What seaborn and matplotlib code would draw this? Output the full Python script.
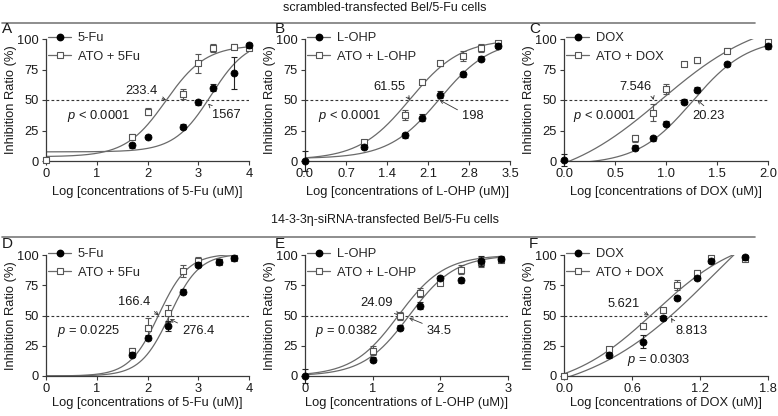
import numpy as np
import seaborn as sns
import matplotlib.pyplot as plt
from matplotlib.lines import Line2D

# ---- data (log10 concentration vs inhibition %) ----
# A: scrambled, 5-Fu
a_fu_x = [1.7, 2.0, 2.7, 3.0, 3.3, 3.7, 4.0]
a_fu_y = [13, 20, 28, 48, 60, 72, 95]
a_fu_err = [2, 1, 2, 2, 3, 13, 2]
a_ato_x = [0, 1.7, 2.0, 2.7, 3.0, 3.3, 3.7, 4.0]
a_ato_y = [1, 20, 40.5, 55, 80, 92.5, 93.5, 93]
a_ato_err = [2, 2, 3, 4, 8, 3, 2, 2]

# B: scrambled, L-OHP
b_ohp_x = [0, 1.0, 1.7, 2.0, 2.3, 2.7, 3.0, 3.3]
b_ohp_y = [0, 11.5, 21, 35.5, 54.5, 71, 84, 94.5]
b_ohp_err = [8, 2, 2, 3, 3, 2, 2, 2]
b_ato_x = [1.0, 1.7, 2.0, 2.3, 2.7, 3.0, 3.3]
b_ato_y = [15.5, 37.5, 65, 80, 86, 92.5, 96.5]
b_ato_err = [2, 4, 2, 2, 4, 3, 2]

# C: scrambled, DOX
c_dox_x = [0, 0.7, 0.875, 1.0, 1.176, 1.3, 1.6, 2.0]
c_dox_y = [1, 11, 18.5, 30.5, 48.5, 58.5, 79.5, 94]
c_dox_err = [5, 2, 2, 2, 2, 2, 2, 2]
c_ato_x = [0.7, 0.875, 1.0, 1.176, 1.3, 1.6, 2.0]
c_ato_y = [18.5, 39.5, 59, 79.5, 82.5, 90.5, 97.5]
c_ato_err = [3, 7, 4, 2, 2, 2, 2]

# D: siRNA, 5-Fu
d_fu_x = [1.7, 2.0, 2.4, 2.7, 3.0, 3.4, 3.7]
d_fu_y = [17.5, 31.5, 41.5, 69.5, 92, 94.5, 97.5]
d_fu_err = [2, 2, 4, 2, 2, 2, 2]
d_ato_x = [1.7, 2.0, 2.4, 2.7, 3.0, 3.4, 3.7]
d_ato_y = [21, 40, 52, 87, 95, 94.5, 97.5]
d_ato_err = [2, 8, 7, 5, 3, 2, 2]

# E: siRNA, L-OHP
e_ohp_x = [0, 1.0, 1.4, 1.7, 2.0, 2.3, 2.6, 2.9]
e_ohp_y = [0, 13.5, 40, 58, 81, 79, 95, 97]
e_ohp_err = [6, 2, 2, 3, 2, 2, 4, 2]
e_ato_x = [1.0, 1.4, 1.7, 2.0, 2.3, 2.6, 2.9]
e_ato_y = [21, 49.5, 69, 77, 88, 94, 96]
e_ato_err = [4, 3, 4, 2, 4, 4, 2]

# F: siRNA, DOX
f_dox_x = [0.4, 0.7, 0.875, 1.0, 1.176, 1.3, 1.6]
f_dox_y = [17, 28.5, 48, 64.5, 81, 95, 98]
f_dox_err = [2, 5, 2, 2, 2, 2, 2]
f_ato_x = [0, 0.4, 0.7, 0.875, 1.0, 1.176, 1.3, 1.6]
f_ato_y = [0, 22, 41, 54.5, 75, 85, 97.5, 97]
f_ato_err = [1, 2, 2, 2, 4, 3, 2, 2]

# fitted 4PL curves: bottom, top, log midpoint, hill slope
a_fit = [[7.5, 100, 3.25, 1.2], [3.5, 95, 2.36, 1.1]]
b_fit = [[2, 100, 2.30, 1.0], [1, 100, 1.79, 1.0]]
c_fit = [[-3, 101, 1.26, 1.6], [-20, 120, 0.95, 0.87]]
d_fit = [[0, 101, 2.44, 1.5], [0, 101, 2.22, 1.5]]
e_fit = [[0, 100, 1.54, 1.28], [0, 100, 1.38, 1.28]]
f_fit = [[-20, 191.7, 1.344, 0.767], [-12.8, 118.8, 0.80, 1.13]]

ic50_labels = {"A": ["233.4", "1567"], "B": ["61.55", "198"], "C": ["7.546", "20.23"],
               "D": ["166.4", "276.4"], "E": ["24.09", "34.5"], "F": ["5.621", "8.813"]}
p_labels = {"A": "< 0.0001", "B": "< 0.0001", "C": "< 0.0001",
            "D": "= 0.0225", "E": "= 0.0382", "F": "= 0.0303"}

sns.set_style("ticks")
plt.rcParams['font.family'] = ['Liberation Sans', 'DejaVu Sans']
plt.rcParams['mathtext.fontset'] = 'custom'
plt.rcParams['mathtext.it'] = 'Liberation Sans:italic'
plt.rcParams['mathtext.rm'] = 'Liberation Sans'

W, H = 778, 416
fig = plt.figure(figsize=(W / 100, H / 100), dpi=100)

AX = '#3a3a3a'
CURVE = '#6a6a6a'
TXT = '#1a1a1a'
FS = 9.3


def four_pl(x, p):
    b, t, m, h = p
    return b + (t - b) / (1 + 10 ** ((m - x) * h))


panels = [
    dict(key="A", box=(46, 249, 39, 161), drug="5-Fu", ato="ATO + 5Fu", xlab="5-Fu",
         ticks=[0, 1, 2, 3, 4], fmt="{:.0f}", xlim=4,
         d=(a_fu_x, a_fu_y, a_fu_err), a=(a_ato_x, a_ato_y, a_ato_err), fit=a_fit,
         ann=[(2.2, 57.5, 'right', (1, 0), 50), (3.27, 37.5, 'left', (0.05, 1), 47)], p=(0.41, 37)),
    dict(key="B", box=(305, 510, 39, 161), drug="L-OHP", ato="ATO + L-OHP", xlab="L-OHP",
         ticks=[0, 0.7, 1.4, 2.1, 2.8, 3.5], fmt="{:.1f}", xlim=3.5,
         d=(b_ohp_x, b_ohp_y, b_ohp_err), a=(b_ato_x, b_ato_y, b_ato_err), fit=b_fit,
         ann=[(1.71, 61, 'right', (1, 0), 50), (2.68, 37, 'left', (0, 0.8), 50)], p=(0.22, 37)),
    dict(key="C", box=(564, 768, 39, 161), drug="DOX", ato="ATO + DOX", xlab="DOX",
         ticks=[0, 0.5, 1.0, 1.5, 2.0], fmt="{:.1f}", xlim=2.0,
         d=(c_dox_x, c_dox_y, c_dox_err), a=(c_ato_x, c_ato_y, c_ato_err), fit=c_fit,
         ann=[(0.86, 61, 'right', (1, 0), 50), (1.26, 37, 'left', (0.5, 1), 50)], p=(0.09, 37)),
    dict(key="D", box=(46, 249, 255, 376), drug="5-Fu", ato="ATO + 5Fu", xlab="5-Fu",
         ticks=[0, 1, 2, 3, 4], fmt="{:.0f}", xlim=4,
         d=(d_fu_x, d_fu_y, d_fu_err), a=(d_ato_x, d_ato_y, d_ato_err), fit=d_fit,
         ann=[(2.05, 61.5, 'right', (1, 0), 50), (2.68, 37, 'left', (0, 1), 47)], p=(0.22, 37)),
    dict(key="E", box=(305, 508, 255, 376), drug="L-OHP", ato="ATO + L-OHP", xlab="L-OHP",
         ticks=[0, 1, 2, 3], fmt="{:.0f}", xlim=3,
         d=(e_ohp_x, e_ohp_y, e_ohp_err), a=(e_ato_x, e_ato_y, e_ato_err), fit=e_fit,
         ann=[(1.3, 60, 'right', (1, 0), 50), (1.8, 37, 'left', (0, 1), 48)], p=(0.15, 37)),
    dict(key="F", box=(564, 768, 255, 376), drug="DOX", ato="ATO + DOX", xlab="DOX",
         ticks=[0, 0.6, 1.2, 1.8], fmt="{:.1f}", xlim=1.8,
         d=(f_dox_x, f_dox_y, f_dox_err), a=(f_ato_x, f_ato_y, f_ato_err), fit=f_fit,
         ann=[(0.67, 59.5, 'right', (1, 0), 50), (0.98, 37.5, 'left', (0, 1), 48)], p=(0.56, 13)),
]

letter_x = {"A": 2, "B": 275, "C": 529, "D": 2, "E": 275, "F": 529}

for pn in panels:
    x0, x1, y0, y1 = pn["box"]
    top_row = y0 < 100
    ax = fig.add_axes([x0 / W, 1 - y1 / H, (x1 - x0) / W, (y1 - y0) / H])

    # fitted curves
    for (sx, _, _), p in zip([pn["d"], pn["a"]], pn["fit"]):
        xs = np.linspace(0, max(sx), 300)
        sns.lineplot(x=xs, y=four_pl(xs, p), ax=ax, color=CURVE, lw=0.9, zorder=2)

    ax.axhline(50, color='#333333', lw=0.8, ls=(0, (2.5, 2)), zorder=1)

    # open squares (ATO combo)
    ax_, ay_, ae_ = pn["a"]
    ax.errorbar(ax_, ay_, yerr=ae_, fmt='none', ecolor='#555555', elinewidth=0.8,
                capsize=2, capthick=0.8, zorder=3, clip_on=False)
    sns.scatterplot(x=ax_, y=ay_, ax=ax, marker='s', s=24, facecolor='white',
                    edgecolor='#555555', linewidth=0.8, zorder=4, clip_on=False)
    # filled circles (drug alone)
    dx_, dy_, de_ = pn["d"]
    ax.errorbar(dx_, dy_, yerr=de_, fmt='none', ecolor='#222222', elinewidth=0.8,
                capsize=2, capthick=0.8, zorder=5, clip_on=False)
    sns.scatterplot(x=dx_, y=dy_, ax=ax, marker='o', s=26, color='black',
                    edgecolor='black', linewidth=0.5, zorder=6, clip_on=False)

    ax.set_xlim(0, pn["xlim"])
    ax.set_ylim(0, 100)
    ax.set_xticks(pn["ticks"])
    ax.set_xticklabels([pn["fmt"].format(t) for t in pn["ticks"]])
    ax.set_yticks([0, 25, 50, 75, 100])
    ax.tick_params(labelsize=FS, length=3, width=0.8, pad=2, colors=AX, labelcolor=TXT)
    sns.despine(ax=ax)
    for s in ['left', 'bottom']:
        ax.spines[s].set_color(AX)
        ax.spines[s].set_linewidth(0.9)

    ax.set_ylabel("Inhibition Ratio (%)", fontsize=FS, color=TXT)
    ax.set_xlabel(f"Log [concentrations of {pn['xlab']} (uM)]", fontsize=FS, color=TXT)
    ax.yaxis.set_label_coords(-29 / (x1 - x0), 0.5)
    ax.xaxis.set_label_coords(0.5, -0.205 if top_row else -0.17)

    handles = [
        Line2D([], [], color=CURVE, lw=0.9, marker='o', ms=4.6, mfc='black', mec='black'),
        Line2D([], [], color=CURVE, lw=0.9, marker='s', ms=4.6, mfc='white', mec='#555555', mew=0.8),
    ]
    ax.legend(handles, [pn["drug"], pn["ato"]], loc='upper left', bbox_to_anchor=(0.01, 1.055),
              frameon=False, fontsize=FS, handlelength=1.8, handletextpad=0.5,
              labelspacing=0.5, borderpad=0, borderaxespad=0)

    # IC50 call-outs
    for lab, (tx, ty, ha, rp, tipy) in zip(ic50_labels[pn["key"]], pn["ann"]):
        ax.annotate(lab, xy=(np.log10(float(lab)), tipy), xytext=(tx, ty), ha=ha, va='center',
                    fontsize=FS, color=TXT,
                    arrowprops=dict(arrowstyle='->', lw=0.6, color='#333333', relpos=rp,
                                    shrinkA=1, shrinkB=0, mutation_scale=6))
    ax.text(pn["p"][0], pn["p"][1], "$p$ " + p_labels[pn["key"]], fontsize=FS, color=TXT,
            ha='left', va='center')

    # panel letter
    fig.text(letter_x[pn["key"]] / W, 1 - (36 if top_row else 251) / H,
             pn["key"], fontsize=11, color=TXT, ha='left', va='bottom')

# section titles and rules
for ty, ly, title in [(8, 22.5, "scrambled-transfected Bel/5-Fu cells"),
                      (220, 237, "14-3-3η-siRNA-transfected Bel/5-Fu cells")]:
    fig.text(385 / W, 1 - ty / H, title, fontsize=9, color=TXT, ha='center', va='center')
    fig.add_artist(Line2D([2 / W, 755 / W], [1 - ly / H] * 2, color='#7a7a7a', lw=1.2))

fig.savefig("out.png", dpi=100)
